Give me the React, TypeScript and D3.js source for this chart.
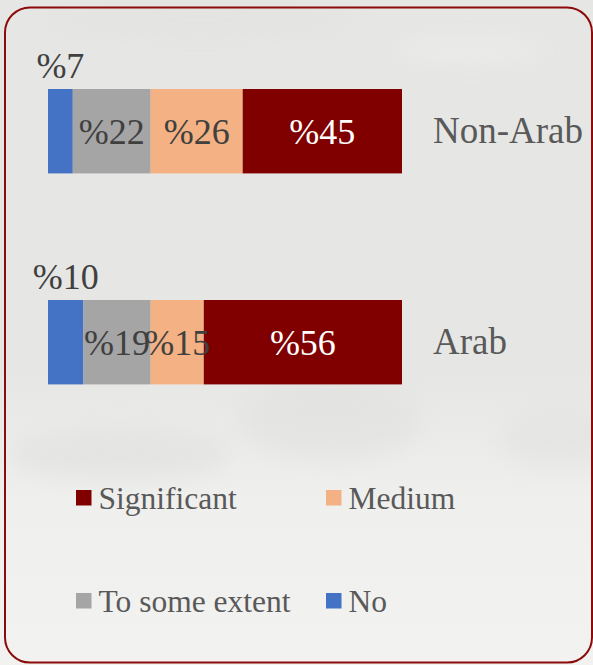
import React from "react";
import * as d3 from "d3";

const categories = ["Non-Arab", "Arab"];
const seriesNames = ["No", "To some extent", "Medium", "Significant"];
const seriesColors = ["#4472C4", "#A5A5A5", "#F4B183", "#800000"];
const noValues = [7, 10];
const someValues = [22, 19];
const mediumValues = [26, 15];
const significantValues = [45, 56];
const legendOrder = ["Significant", "Medium", "To some extent", "No"];

const W = 593;
const H = 665;

export default function App() {
  const series = [noValues, someValues, mediumValues, significantValues];
  const x = d3.scaleLinear().domain([0, 100]).range([48, 402]);
  const y = d3.scaleBand<string>().domain(categories).range([89, 384.4]).paddingInner(0.6).paddingOuter(0);
  const bh = y.bandwidth();

  const stackData = categories.map((c, i) => {
    const row: any = { cat: c };
    seriesNames.forEach((s, j) => (row[s] = series[j][i]));
    return row;
  });
  const stacked = d3.stack<any>().keys(seriesNames)(stackData);

  const legendX = d3.scalePoint<number>().domain([0, 1]).range([76, 326]);
  const legendY = d3.scalePoint<number>().domain([0, 1]).range([490, 593]);
  const font = "Liberation Serif";

  return (
    <div style={{ position: "absolute", left: 0, top: 0 }}>
      <svg width={W} height={H} style={{ display: "block", fontFamily: "'Liberation Serif', 'DejaVu Serif', serif" }}>
        <defs>
          <linearGradient id="bg" x1="0" y1="0" x2="0" y2="1">
            <stop offset="0" stopColor="#e6e6e4" />
            <stop offset="0.55" stopColor="#e6e6e4" />
            <stop offset="0.75" stopColor="#efefed" />
            <stop offset="1" stopColor="#f2f2f0" />
          </linearGradient>
          <filter id="blur" x="-20%" y="-50%" width="140%" height="200%">
            <feGaussianBlur stdDeviation="12" />
          </filter>
        </defs>
        <rect x={0} y={0} width={W} height={H} fill="url(#bg)" />
        <g filter="url(#blur)" opacity={0.35}>
          <ellipse cx={120} cy={455} rx={110} ry={25} fill="#d6d6d4" />
          <ellipse cx={330} cy={420} rx={90} ry={40} fill="#d9d9d7" />
          <ellipse cx={560} cy={440} rx={60} ry={30} fill="#dcdcda" />
          <ellipse cx={200} cy={20} rx={160} ry={18} fill="#dedede" />
          <ellipse cx={470} cy={50} rx={80} ry={12} fill="#f6f6f6" />
        </g>
        <rect x={5} y={7.5} width={587} height={655} rx={25} ry={25} fill="none" stroke="#8B0A0A" strokeWidth={2} />

        {stacked.map((layer, j) => (
          <g key={layer.key}>
            {layer.map((d, i) => (
              <rect
                key={i}
                x={x(d[0])}
                y={y(categories[i])!}
                width={x(d[1]) - x(d[0])}
                height={bh}
                fill={seriesColors[j]}
              />
            ))}
          </g>
        ))}

        {stacked.map((layer, j) => (
          <g key={"l" + layer.key}>
            {layer.map((d, i) => {
              const cx = (x(d[0]) + x(d[1])) / 2;
              const top = y(categories[i])!;
              const isSmall = j === 0;
              return (
                <text
                  key={i}
                  x={cx}
                  y={isSmall ? top - 11 : top + bh / 2 + 13}
                  textAnchor="middle"
                  style={{ fontFamily: font }}
                  fontSize={36}
                  fill={j === 3 ? "#ffffff" : "#404040"}
                >
                  {"%" + series[j][i]}
                </text>
              );
            })}
          </g>
        ))}

        {categories.map((c) => (
          <text
            key={c}
            x={433}
            y={y(c)! + bh / 2 + 12}
            style={{ fontFamily: font }}
            fontSize={37}
            fill="#595959"
          >
            {c}
          </text>
        ))}

        {legendOrder.map((name, k) => {
          const col = k % 2;
          const row = Math.floor(k / 2);
          const idx = seriesNames.indexOf(name);
          const lx = legendX(col)!;
          const ly = legendY(row)!;
          return (
            <g key={name}>
              <rect x={lx} y={ly} width={15.5} height={15.5} fill={seriesColors[idx]} />
              <text x={lx + 22.5} y={ly + 19} style={{ fontFamily: font }} fontSize={31.5} fill="#595959">
                {name}
              </text>
            </g>
          );
        })}
      </svg>
    </div>
  );
}
